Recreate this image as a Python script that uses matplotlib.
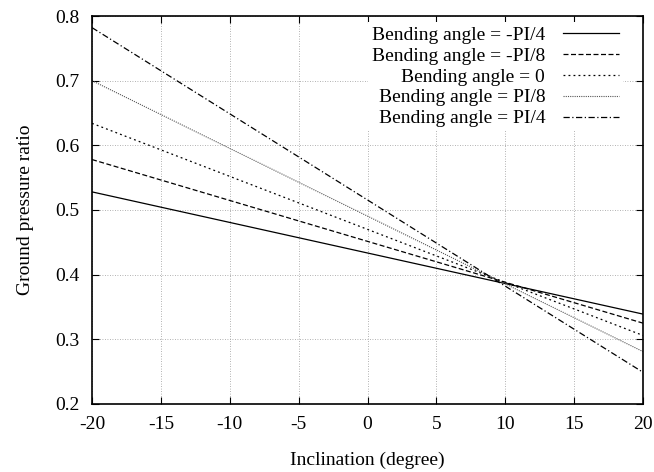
import matplotlib
matplotlib.use("Agg")
import matplotlib.pyplot as plt

plt.rcParams['font.family'] = ['Liberation Serif', 'DejaVu Serif']
plt.rcParams['axes.unicode_minus'] = False

# Inclination end points (degree) and ground pressure ratio for each bending angle
inclination = [-20, 20]
labels = [
    "Bending angle = -PI/4",
    "Bending angle = -PI/8",
    "Bending angle = 0",
    "Bending angle = PI/8",
    "Bending angle = PI/4",
]
ratio_neg_pi4 = [0.528, 0.339]
ratio_neg_pi8 = [0.578, 0.325]
ratio_zero = [0.634, 0.306]
ratio_pi8 = [0.700, 0.281]
ratio_pi4 = [0.782, 0.249]
series = [ratio_neg_pi4, ratio_neg_pi8, ratio_zero, ratio_pi8, ratio_pi4]

styles = [
    dict(linestyle='-', color='black', linewidth=0.9),
    dict(linestyle=(0, (4, 2)), color='black', linewidth=0.9),
    dict(linestyle=(0, (1.5, 2.5)), color='black', linewidth=0.9),
    dict(linestyle=(0, (1, 1)), color='#555555', linewidth=0.8),
    dict(linestyle=(0, (5, 2, 1, 2)), color='black', linewidth=0.9),
]

fig = plt.figure(figsize=(6.54, 4.72), dpi=100)
ax = fig.add_axes([0.1407, 0.1441, 0.8425, 0.822])

for vals, lab, st in zip(series, labels, styles):
    ax.plot(inclination, vals, label=lab, **st)

ax.set_xlim(-20, 20)
ax.set_ylim(0.2, 0.8)
ax.set_xticks(range(-20, 21, 5))
ax.set_yticks([0.2, 0.3, 0.4, 0.5, 0.6, 0.7, 0.8])
ax.set_yticklabels(["0.2", "0.3", "0.4", "0.5", "0.6", "0.7", "0.8"])
ax.tick_params(direction='in', top=True, right=True, length=5, labelsize=14)
ax.tick_params(axis='x', pad=9)
ax.tick_params(axis='y', pad=9)
ax.grid(True, linestyle=(0, (1, 2)), color='#999999', linewidth=0.6)

for sp in ax.spines.values():
    sp.set_linewidth(1.2)

ax.set_xlabel("Inclination (degree)", fontsize=14, labelpad=13)
ax.set_ylabel("Ground pressure ratio", fontsize=14, labelpad=15)

leg = ax.legend(loc='upper right', bbox_to_anchor=(0.9637, 0.984),
                markerfirst=False, frameon=True, fontsize=14,
                handlelength=2.9, handletextpad=0.9, labelspacing=0.17,
                borderaxespad=0, borderpad=0.2, fancybox=False)
leg.get_frame().set_edgecolor('none')
leg.get_frame().set_facecolor('white')
leg.get_frame().set_alpha(1.0)

fig.savefig("out.png", dpi=100)
